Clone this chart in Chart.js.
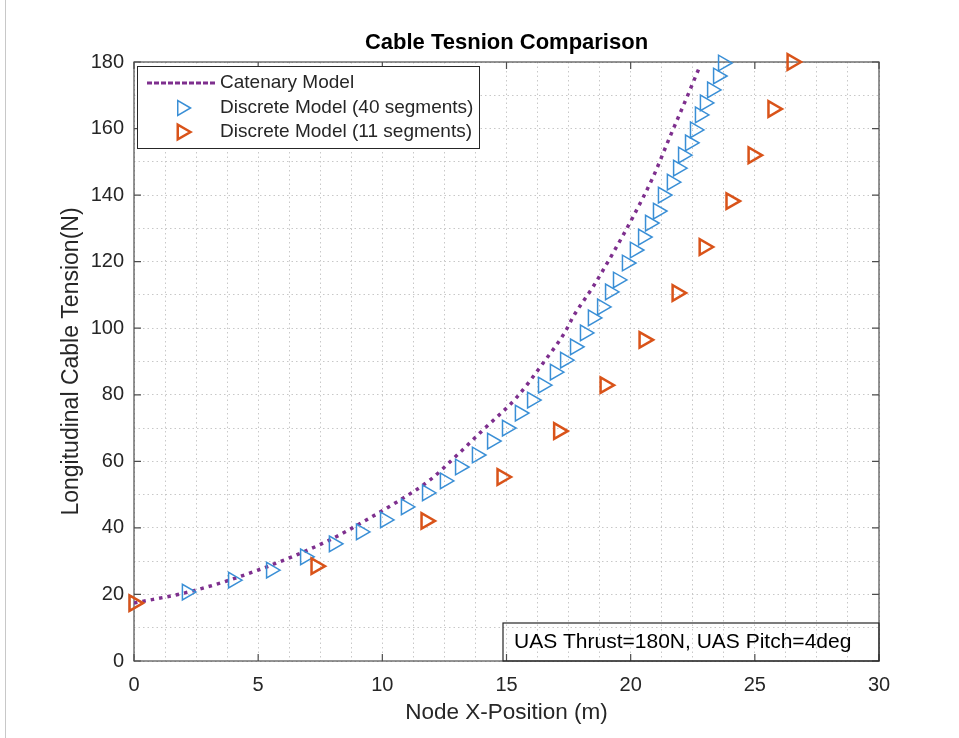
<!DOCTYPE html>
<html>
<head>
<meta charset="utf-8">
<title>Cable Tension Comparison</title>
<script src="https://cdn.jsdelivr.net/npm/chart.js@4.4.0/dist/chart.umd.min.js"></script>
<style>
  html, body { margin: 0; padding: 0; background: #fff; }
  #wrap { width: 959px; height: 738px; }
</style>
</head>
<body>
<div id="wrap"><canvas id="tension" width="959" height="738"></canvas></div>
<script>
// catenary model
const catX = [0, 2.34, 4.99, 7.89, 9.22, 10.59, 11.92, 12.93, 14.05, 15.42, 16.47, 17.36, 17.68, 18.48, 19.29, 20.09, 20.90, 21.58, 22.27, 22.79];
const catT = [17.4, 21.0, 27.3, 36.4, 41.8, 47.8, 54.4, 61.3, 69.4, 79.3, 89.5, 98.9, 103.4, 112.4, 122.6, 133.4, 145.4, 157.5, 169.5, 178.8];

// discrete model, 40 segments
const seg40X = [0, 2.13, 3.99, 5.52, 6.89, 8.05, 9.14, 10.11, 10.95, 11.80, 12.52, 13.13, 13.81, 14.42, 15.02, 15.54,
  16.03, 16.47, 16.95, 17.36, 17.76, 18.16, 18.48, 18.85, 19.17, 19.49, 19.85, 20.17, 20.50, 20.78, 21.10,
  21.30, 21.66, 21.91, 22.11, 22.39, 22.59, 22.79, 22.99, 23.28, 23.52, 23.72];
const seg40T = [17.4, 20.7, 24.3, 27.3, 31.3, 35.2, 38.8, 42.4, 46.3, 50.5, 54.1, 58.3, 61.9, 66.1, 70.0, 74.5,
  78.4, 82.9, 86.8, 90.4, 94.4, 98.6, 103.1, 106.4, 110.9, 114.5, 119.6, 123.5, 127.4, 131.6, 135.2,
  140.0, 143.9, 148.1, 152.0, 155.7, 159.6, 164.1, 167.7, 171.6, 175.8, 179.7];

// discrete model, 11 segments
const seg11X = [0, 7.33, 11.76, 14.82, 17.10, 18.97, 20.54, 21.87, 22.96, 24.04, 24.93, 25.73, 26.50];
const seg11T = [17.4, 28.5, 42.1, 55.3, 69.1, 82.9, 96.5, 110.6, 124.4, 138.2, 152.0, 165.9, 180.0];

const xTicks = [0, 5, 10, 15, 20, 25, 30];
const yTicks = [0, 20, 40, 60, 80, 100, 120, 140, 160, 180];

const ink = '#262626';
const fam = '"Liberation Sans", Arial, Helvetica, sans-serif';
const purple = '#7E2F8E';
const blue = '#3a8fd6';
const orange = '#D95319';

function pts(xs, ys) {
  return xs.map((x, i) => ({ x: x, y: ys[i] }));
}

function tri(ctx, x, y, r) {
  ctx.beginPath();
  ctx.moveTo(x + r, y);
  ctx.lineTo(x - r / 2, y - r * 0.866);
  ctx.lineTo(x - r / 2, y + r * 0.866);
  ctx.closePath();
  ctx.stroke();
}

const frame = {
  id: 'frame',
  beforeDatasetsDraw(chart) {
    const { ctx, chartArea: a, scales } = chart;
    ctx.save();
    ctx.strokeStyle = '#4d4d4d';
    ctx.lineWidth = 1.2;
    ctx.strokeRect(a.left, a.top, a.right - a.left, a.bottom - a.top);
    ctx.beginPath();
    xTicks.forEach(v => {
      const px = scales.x.getPixelForValue(v);
      ctx.moveTo(px, a.bottom); ctx.lineTo(px, a.bottom - 7);
      ctx.moveTo(px, a.top); ctx.lineTo(px, a.top + 7);
    });
    yTicks.forEach(v => {
      const py = scales.y.getPixelForValue(v);
      ctx.moveTo(a.left, py); ctx.lineTo(a.left + 7, py);
      ctx.moveTo(a.right, py); ctx.lineTo(a.right - 7, py);
    });
    ctx.stroke();
    ctx.restore();
  },
  afterDraw(chart) {
    const { ctx, chartArea: a } = chart;
    ctx.save();
    // figure edge
    ctx.strokeStyle = '#c8c8c8';
    ctx.lineWidth = 1;
    ctx.beginPath();
    ctx.moveTo(5.5, 0); ctx.lineTo(5.5, 738);
    ctx.stroke();

    // legend
    const lx = a.left + 3, ly = a.top + 4, lw = 342, lh = 82;
    ctx.fillStyle = '#fff';
    ctx.fillRect(lx, ly, lw, lh);
    ctx.strokeStyle = ink;
    ctx.lineWidth = 1;
    ctx.strokeRect(lx + 0.5, ly + 0.5, lw, lh);
    ctx.font = '19px ' + fam;
    ctx.fillStyle = ink;
    ctx.textBaseline = 'middle';
    ctx.textAlign = 'left';
    const rows = [ly + 17, ly + 42, ly + 66];
    ctx.strokeStyle = purple;
    ctx.lineWidth = 3;
    ctx.setLineDash([5, 2]);
    ctx.beginPath();
    ctx.moveTo(lx + 10, rows[0]); ctx.lineTo(lx + 78, rows[0]);
    ctx.stroke();
    ctx.setLineDash([]);
    ctx.strokeStyle = blue; ctx.lineWidth = 1.5;
    tri(ctx, lx + 45, rows[1], 8.5);
    ctx.strokeStyle = orange; ctx.lineWidth = 2.5;
    tri(ctx, lx + 45, rows[2], 8.5);
    ctx.fillText('Catenary Model', lx + 83, rows[0]);
    ctx.fillText('Discrete Model (40 segments)', lx + 83, rows[1]);
    ctx.fillText('Discrete Model (11 segments)', lx + 83, rows[2]);

    // annotation
    const bx = 503, by = a.bottom - 38;
    ctx.strokeStyle = ink;
    ctx.lineWidth = 1.2;
    ctx.strokeRect(bx, by, a.right - bx, a.bottom - by);
    ctx.font = '21px ' + fam;
    ctx.fillStyle = '#000';
    ctx.fillText('UAS Thrust=180N, UAS Pitch=4deg', bx + 11, by + 19);
    ctx.restore();
  }
};

const gridOpts = { color: '#c8c8c8', lineWidth: 1, drawTicks: false };
const borderOpts = { display: false, dash: [1.5, 3] };

new Chart(document.getElementById('tension'), {
  type: 'scatter',
  data: {
    datasets: [
      {
        label: 'Catenary Model',
        data: pts(catX, catT),
        showLine: true,
        borderColor: purple,
        borderWidth: 3.5,
        borderDash: [3.5, 5],
        pointRadius: 0,
        cubicInterpolationMode: 'monotone',
        order: 3
      },
      {
        label: 'Discrete Model (40 segments)',
        data: pts(seg40X, seg40T),
        showLine: false,
        pointStyle: 'triangle',
        rotation: 90,
        pointRadius: 9,
        pointBorderWidth: 1.5,
        borderColor: blue,
        backgroundColor: 'rgba(0,0,0,0)',
        clip: false,
        order: 2
      },
      {
        label: 'Discrete Model (11 segments)',
        data: pts(seg11X, seg11T),
        showLine: false,
        pointStyle: 'triangle',
        rotation: 90,
        pointRadius: 9,
        pointBorderWidth: 2.5,
        borderColor: orange,
        backgroundColor: 'rgba(0,0,0,0)',
        clip: false,
        order: 1
      }
    ]
  },
  options: {
    responsive: false,
    animation: false,
    layout: { padding: { left: 0, right: 80, top: 0, bottom: 0 } },
    plugins: {
      legend: { display: false },
      tooltip: { enabled: false },
      title: {
        display: true,
        fullSize: false,
        text: 'Cable Tesnion Comparison',
        color: '#000',
        font: { family: fam, size: 22, weight: 'bold' },
        padding: { top: 30, bottom: 5.6 }
      }
    },
    scales: {
      x: {
        type: 'linear',
        min: 0,
        max: 30,
        grid: gridOpts,
        border: borderOpts,
        ticks: {
          stepSize: 1.25,
          autoSkip: false,
          maxRotation: 0,
          padding: 12,
          color: ink,
          font: { family: fam, size: 20 },
          callback: v => (xTicks.includes(v) ? String(v) : '')
        },
        title: {
          display: true,
          text: 'Node X-Position (m)',
          color: ink,
          font: { family: fam, size: 22.5 },
          padding: { top: 0, bottom: 11.5 }
        },
        afterFit(scale) { scale.height = 77; }
      },
      y: {
        type: 'linear',
        min: 0,
        max: 180,
        grid: gridOpts,
        border: borderOpts,
        ticks: {
          stepSize: 10,
          autoSkip: false,
          padding: 10,
          color: ink,
          font: { family: fam, size: 20 },
          callback: v => (yTicks.includes(v) ? String(v) : '')
        },
        title: {
          display: true,
          text: 'Longitudinal Cable Tension(N)',
          color: ink,
          font: { family: fam, size: 23 },
          padding: { top: 58, bottom: 0 }
        },
        afterFit(scale) { scale.width = 134; }
      }
    }
  },
  plugins: [frame]
});
</script>
</body>
</html>
